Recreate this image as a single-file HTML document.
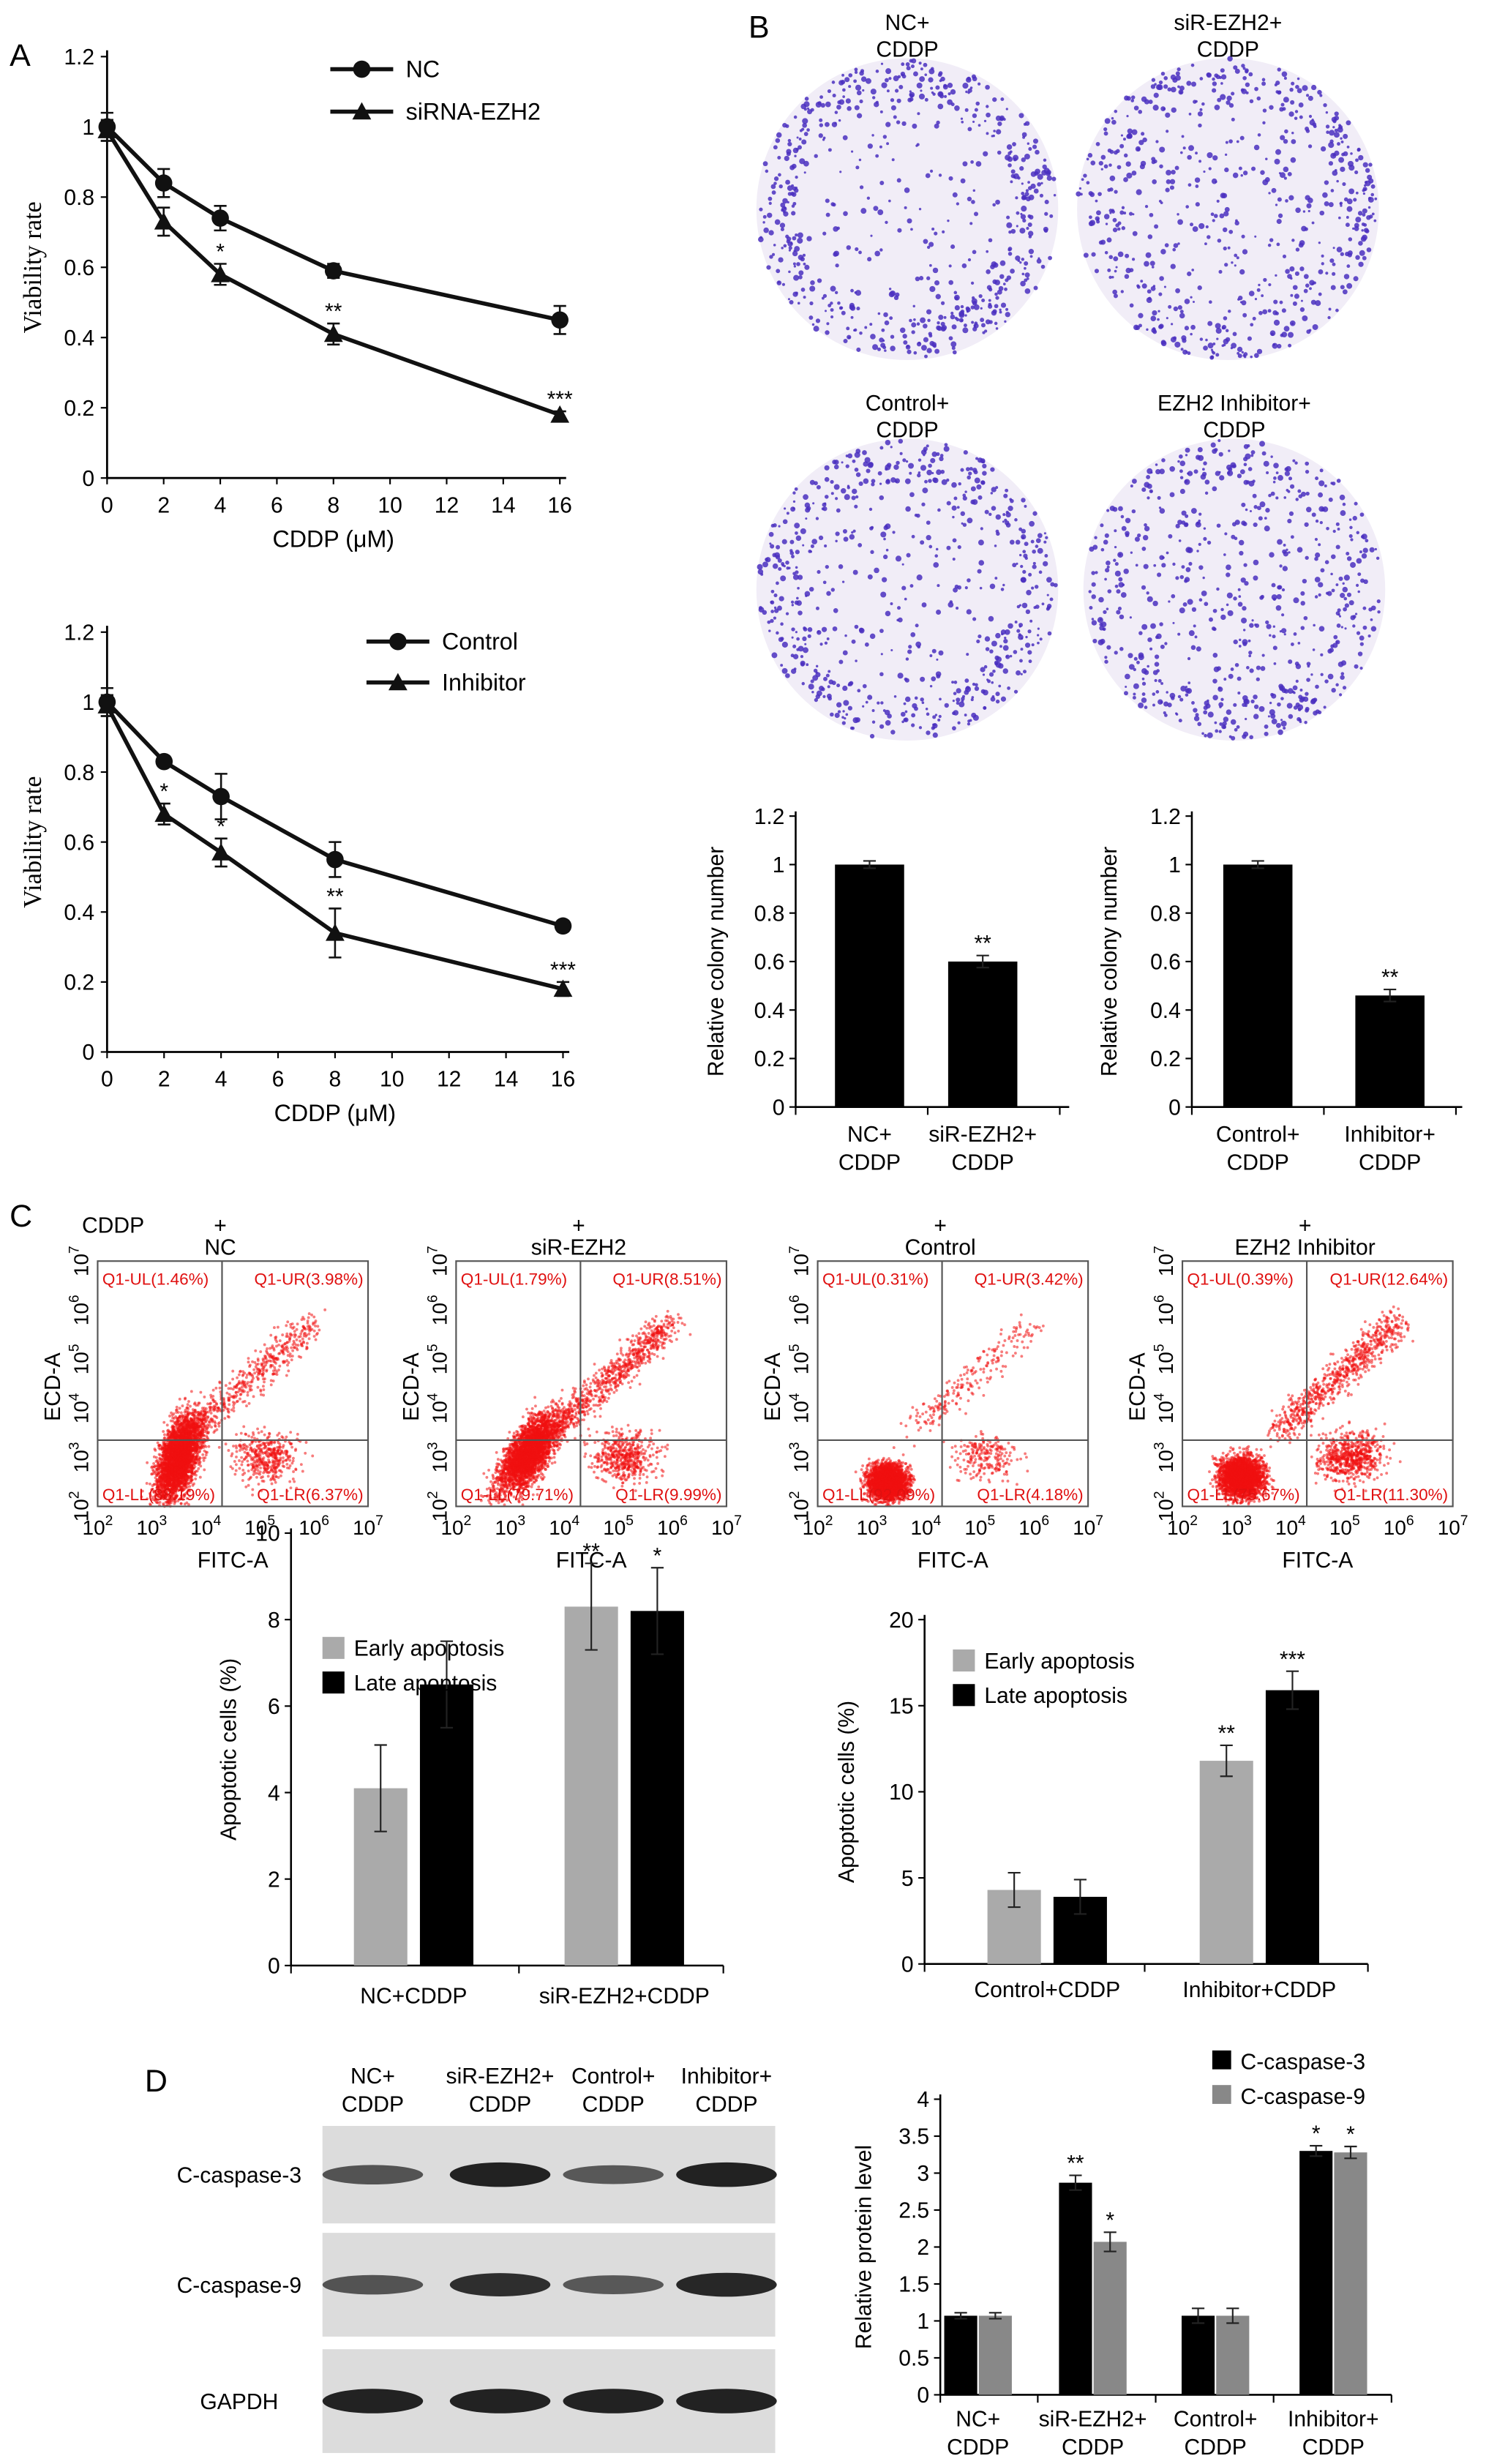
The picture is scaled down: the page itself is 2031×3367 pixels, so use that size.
<!DOCTYPE html>
<html><head><meta charset="utf-8"><style>
html,body{margin:0;padding:0;background:#fff}
svg{display:block;font-family:"Liberation Sans",Arial,sans-serif}
</style></head><body>
<svg id="fig" width="2031" height="3367" viewBox="0 0 945 1567" xmlns="http://www.w3.org/2000/svg">
<rect width="945" height="1567" fill="#fff"/>
<text x="6" y="42" font-size="20">A</text>
<text x="476" y="24" font-size="20">B</text>
<text x="6" y="780" font-size="20">C</text>
<text x="92" y="1330" font-size="20">D</text>
<g id="root"></g>
</svg>
<script>
// ---- Panel A data ----
const doses = [0, 2, 4, 8, 16];
const ncVals = [1.0, 0.84, 0.74, 0.59, 0.45];
const ncErr = [0.04, 0.04, 0.035, 0.02, 0.04];
const sirVals = [0.99, 0.73, 0.58, 0.41, 0.18];
const sirErr = [0.03, 0.04, 0.03, 0.03, 0.01];
const sirStars = ["", "", "*", "**", "***"];
const ctrlVals = [1.0, 0.83, 0.73, 0.55, 0.36];
const ctrlErr = [0.04, 0.015, 0.065, 0.05, 0.015];
const inhVals = [0.99, 0.68, 0.57, 0.34, 0.18];
const inhErr = [0.03, 0.03, 0.04, 0.07, 0.02];
const inhStars = ["", "*", "*", "**", "***"];
const xTicksA = [0, 2, 4, 6, 8, 10, 12, 14, 16];
const yTicksA = [0, 0.2, 0.4, 0.6, 0.8, 1, 1.2];
// ---- Panel B data ----
const colonyCats1 = ["NC+|CDDP", "siR-EZH2+|CDDP"];
const colonyVals1 = [1.0, 0.6];
const colonyErr1 = [0.015, 0.025];
const colonyStars1 = ["", "**"];
const colonyCats2 = ["Control+|CDDP", "Inhibitor+|CDDP"];
const colonyVals2 = [1.0, 0.46];
const colonyErr2 = [0.015, 0.025];
const colonyStars2 = ["", "**"];
const yTicksB = [0, 0.2, 0.4, 0.6, 0.8, 1, 1.2];
// ---- Panel C data ----
const flowTitles = ["NC", "siR-EZH2", "Control", "EZH2 Inhibitor"];
const flowUL = ["Q1-UL(1.46%)", "Q1-UL(1.79%)", "Q1-UL(0.31%)", "Q1-UL(0.39%)"];
const flowUR = ["Q1-UR(3.98%)", "Q1-UR(8.51%)", "Q1-UR(3.42%)", "Q1-UR(12.64%)"];
const flowLL = ["Q1-LL(88.19%)", "Q1-LL(79.71%)", "Q1-LL(92.09%)", "Q1-LL(75.67%)"];
const flowLR = ["Q1-LR(6.37%)", "Q1-LR(9.99%)", "Q1-LR(4.18%)", "Q1-LR(11.30%)"];
const apoCats1 = ["NC+CDDP", "siR-EZH2+CDDP"];
const apoEarly1 = [4.1, 8.3];
const apoLate1 = [6.5, 8.2];
const apoEarlyErr1 = [1.0, 1.0];
const apoLateErr1 = [1.0, 1.0];
const apoEarlyStars1 = ["", "**"];
const apoLateStars1 = ["", "*"];
const yTicksC1 = [0, 2, 4, 6, 8, 10];
const apoCats2 = ["Control+CDDP", "Inhibitor+CDDP"];
const apoEarly2 = [4.3, 11.8];
const apoLate2 = [3.9, 15.9];
const apoEarlyErr2 = [1.0, 0.9];
const apoLateErr2 = [1.0, 1.1];
const apoEarlyStars2 = ["", "**"];
const apoLateStars2 = ["", "***"];
const yTicksC2 = [0, 5, 10, 15, 20];
// ---- Panel D data ----
const protCats = ["NC+|CDDP", "siR-EZH2+|CDDP", "Control+|CDDP", "Inhibitor+|CDDP"];
const casp3 = [1.07, 2.87, 1.07, 3.3];
const casp3Err = [0.04, 0.1, 0.1, 0.07];
const casp9 = [1.07, 2.07, 1.07, 3.28];
const casp9Err = [0.04, 0.13, 0.1, 0.08];
const casp3Stars = ["", "**", "", "*"];
const casp9Stars = ["", "*", "", "*"];
const yTicksD = [0, 0.5, 1, 1.5, 2, 2.5, 3, 3.5, 4];

const NS = "http://www.w3.org/2000/svg";
const root = document.getElementById("root");
function el(tag, attrs, parent, txt) {
  const e = document.createElementNS(NS, tag);
  for (const k in attrs) e.setAttribute(k, attrs[k]);
  if (txt !== undefined) e.textContent = txt;
  (parent || root).appendChild(e);
  return e;
}
function lin(d0, d1, r0, r1) { return v => r0 + (v - d0) / (d1 - d0) * (r1 - r0); }
function rng(seed) { let s = seed; return () => { s = (s * 16807) % 2147483647; return (s - 1) / 2147483646; }; }
function gauss(r) { return (r() + r() + r() + r() - 2) / 1.15; }

// ---------- Line charts (Panel A) ----------
function lineChart(cfg) {
  const g = el("g", {});
  
  
  const x = lin(0, 16, cfg.x0, cfg.x1), y = lin(0, 1.2, cfg.yb, cfg.yt);
  el("line", {x1: cfg.x0, y1: cfg.yt - 4, x2: cfg.x0, y2: cfg.yb, stroke: "#000", "stroke-width": 1.3}, g);
  el("line", {x1: cfg.x0, y1: cfg.yb, x2: cfg.x1 + 4, y2: cfg.yb, stroke: "#000", "stroke-width": 1.3}, g);
  yTicksA.forEach(t => {
    el("line", {x1: cfg.x0 - 4, y1: y(t), x2: cfg.x0, y2: y(t), stroke: "#000"}, g);
    const tl = el("text", {x: cfg.x0 - 8, y: y(t) + 5, "font-size": 14, "text-anchor": "end"}, g, String(t));
    
    
  });
  xTicksA.forEach(t => {
    el("line", {x1: x(t), y1: cfg.yb, x2: x(t), y2: cfg.yb + 4, stroke: "#000"}, g);
    const tl = el("text", {x: x(t), y: cfg.yb + 22, "font-size": 14, "text-anchor": "middle"}, g, String(t));
    
    
  });
  const xt = el("text", {x: (cfg.x0 + cfg.x1) / 2, y: cfg.yb + 44, "font-size": 15, "text-anchor": "middle"}, g, "CDDP (μM)");
  
  
  const yt = el("text", {x: 0, y: 0, "font-size": 16, "text-anchor": "middle", transform: `translate(${cfg.x0 - 42},${(cfg.yt + cfg.yb) / 2}) rotate(-90)`, "font-family": "Liberation Serif, serif"}, g, "Viability rate");
  
  
  cfg.series.forEach((s, si) => {
    const pts = doses.map((d, i) => x(d) + "," + y(s.vals[i])).join(" ");
    const pl = el("polyline", {points: pts, fill: "none", stroke: "#111", "stroke-width": 2.6}, g);
    
    
    doses.forEach((d, i) => {
      const cx = x(d), cy = y(s.vals[i]), e = s.err[i];
      el("line", {x1: cx, y1: y(s.vals[i] + e), x2: cx, y2: y(s.vals[i] - e), stroke: "#111", "stroke-width": 1.2}, g);
      el("line", {x1: cx - 4, y1: y(s.vals[i] + e), x2: cx + 4, y2: y(s.vals[i] + e), stroke: "#111", "stroke-width": 1.2}, g);
      el("line", {x1: cx - 4, y1: y(s.vals[i] - e), x2: cx + 4, y2: y(s.vals[i] - e), stroke: "#111", "stroke-width": 1.2}, g);
      let m;
      if (s.marker === "circle") m = el("circle", {cx: cx, cy: cy, r: 5.5, fill: "#111"}, g);
      else m = el("polygon", {points: `${cx},${cy - 6} ${cx - 6},${cy + 5} ${cx + 6},${cy + 5}`, fill: "#111"}, g);
      
      
      if (s.stars && s.stars[i]) {
        const st = el("text", {x: cx, y: y(s.vals[i] + e) - 3, "font-size": 14, "text-anchor": "middle"}, g, s.stars[i]);
        
        
      }
    });
    const ly = cfg.legY[si];
    el("line", {x1: cfg.legX, y1: ly, x2: cfg.legX + 40, y2: ly, stroke: "#111", "stroke-width": 2.6}, g);
    const lx = cfg.legX + 20;
    if (s.marker === "circle") el("circle", {cx: lx, cy: ly, r: 5.5, fill: "#111"}, g);
    else el("polygon", {points: `${lx},${ly - 6} ${lx - 6},${ly + 5} ${lx + 6},${ly + 5}`, fill: "#111"}, g);
    const lt = el("text", {x: cfg.legX + 48, y: ly + 5, "font-size": 15}, g, s.label);
    
    
  });
}
lineChart({name: "viability-chart-sirna", x0: 68, x1: 356, yt: 36, yb: 304, legX: 210, legY: [44, 71],
  series: [{key: "nc", label: "NC", vals: ncVals, err: ncErr, marker: "circle"},
           {key: "sirna", label: "siRNA-EZH2", vals: sirVals, err: sirErr, marker: "tri", stars: sirStars}]});
lineChart({name: "viability-chart-inhibitor", x0: 68, x1: 358, yt: 402, yb: 669, legX: 233, legY: [408, 434],
  series: [{key: "control", label: "Control", vals: ctrlVals, err: ctrlErr, marker: "circle"},
           {key: "inhibitor", label: "Inhibitor", vals: inhVals, err: inhErr, marker: "tri", stars: inhStars}]});

// ---------- Colony plates (Panel B) ----------
const plates = [[577, 133, "NC+", "CDDP", 0.55, 11], [781, 133, "siR-EZH2+", "CDDP", 0.4, 23], [577, 375, "Control+", "CDDP", 0.5, 37], [785, 375, "EZH2 Inhibitor+", "CDDP", 0.35, 53]];
plates.forEach((p, pi) => {
  const g = el("g", {});
  
  
  el("circle", {cx: p[0], cy: p[1], r: 96, fill: "#f1edf7"}, g);
  const r = rng(p[5] * 1000 + 7);
  for (let i = 0; i < 650; i++) {
    const a = r() * 6.283; let rad = 96 * Math.sqrt(r());
    if (r() < p[4]) rad = 96 * (0.72 + 0.27 * r());
    el("circle", {cx: p[0] + rad * Math.cos(a), cy: p[1] + rad * Math.sin(a), r: 0.7 + r() * 1.2, fill: "#4a2fc0", opacity: 0.85}, g);
  }
  const t1 = el("text", {x: p[0], y: p[1] - 114, "font-size": 14, "text-anchor": "middle"}, g, p[2]);
  
  
  el("text", {x: p[0], y: p[1] - 97, "font-size": 14, "text-anchor": "middle"}, g, p[3]);
});

// ---------- Bar chart helper ----------
function barChart(cfg) {
  const g = el("g", {});
  
  
  const y = lin(0, cfg.ymax, cfg.yb, cfg.yt);
  el("line", {x1: cfg.x0, y1: cfg.yt - 3, x2: cfg.x0, y2: cfg.yb, stroke: "#000", "stroke-width": 1.2}, g);
  el("line", {x1: cfg.x0, y1: cfg.yb, x2: cfg.x1, y2: cfg.yb, stroke: "#000", "stroke-width": 1.2}, g);
  cfg.ticks.forEach(t => {
    el("line", {x1: cfg.x0 - 4, y1: y(t), x2: cfg.x0, y2: y(t), stroke: "#000"}, g);
    const tl = el("text", {x: cfg.x0 - 7, y: y(t) + 5, "font-size": 14, "text-anchor": "end"}, g, String(t));
    
    
  });
  if (cfg.sepTicks) cfg.sepTicks.forEach(sx => el("line", {x1: sx, y1: cfg.yb, x2: sx, y2: cfg.yb + 5, stroke: "#000"}, g));
  const yt = el("text", {x: 0, y: 0, "font-size": 14, "text-anchor": "middle", transform: `translate(${cfg.ylx},${(cfg.yt + cfg.yb) / 2}) rotate(-90)`}, g, cfg.ylabel);
  
  
  cfg.cats.forEach((c, i) => {
    const cx = cfg.centers[i];
    cfg.series.forEach((s, si) => {
      const bx = cx + s.off - cfg.bw / 2, v = s.vals[i], e = s.err[i];
      const b = el("rect", {x: bx, y: y(v), width: cfg.bw, height: cfg.yb - y(v), fill: s.color}, g);
      
      
      const mx = bx + cfg.bw / 2;
      el("line", {x1: mx, y1: y(v + e), x2: mx, y2: y(v - e), stroke: "#222"}, g);
      el("line", {x1: mx - 4, y1: y(v + e), x2: mx + 4, y2: y(v + e), stroke: "#222"}, g);
      el("line", {x1: mx - 4, y1: y(v - e), x2: mx + 4, y2: y(v - e), stroke: "#222"}, g);
      if (s.stars && s.stars[i]) {
        const st = el("text", {x: mx, y: y(v + e) - 3, "font-size": 14, "text-anchor": "middle"}, g, s.stars[i]);
        
        
      }
    });
    c.split("|").forEach((ln, li) => {
      const tl = el("text", {x: cx + (cfg.labOff || 0), y: cfg.yb + cfg.labDy + li * 18, "font-size": 14, "text-anchor": "middle"}, g, ln);
      
      
    });
  });
  if (cfg.legend) cfg.legend.forEach((l, li) => {
    el("rect", {x: l.x, y: l.y - 7, width: l.w || 14, height: l.h || 14, fill: l.color}, g);
    const lt = el("text", {x: l.x + (l.w || 14) + 6, y: l.y + 5, "font-size": 14}, g, l.text);
    
    
  });
}
barChart({name: "colony-chart-sirna", x0: 506, x1: 680, yt: 519, yb: 704, ymax: 1.2, ticks: yTicksB, ylx: 460, ylabel: "Relative colony number",
  cats: colonyCats1, centers: [553, 625], bw: 44, labDy: 22, sepTicks: [506, 590, 674],
  series: [{key: "colony", vals: colonyVals1, err: colonyErr1, color: "#000", off: 0, stars: colonyStars1}]});
barChart({name: "colony-chart-inhibitor", x0: 758, x1: 930, yt: 519, yb: 704, ymax: 1.2, ticks: yTicksB, ylx: 710, ylabel: "Relative colony number",
  cats: colonyCats2, centers: [800, 884], bw: 44, labDy: 22, sepTicks: [758, 842, 926],
  series: [{key: "colony", vals: colonyVals2, err: colonyErr2, color: "#000", off: 0, stars: colonyStars2}]});

// ---------- Flow cytometry (Panel C) ----------
const cddp = el("text", {x: 52, y: 784, "font-size": 14}, root, "CDDP");


const flowX = [62, 290, 520, 752];
const flowProfiles = [
  {llx: 0.3, lly: 0.2, llsx: 0.07, llsy: 0.17, ll: 3200, diag: 500, lr: 420, slope: 0.6},
  {llx: 0.27, lly: 0.22, llsx: 0.08, llsy: 0.15, ll: 3000, diag: 800, lr: 500, slope: 1.2},
  {llx: 0.26, lly: 0.1, llsx: 0.07, llsy: 0.07, ll: 2600, diag: 220, lr: 220, slope: 0},
  {llx: 0.22, lly: 0.12, llsx: 0.08, llsy: 0.08, ll: 2600, diag: 750, lr: 650, slope: 0}];
flowTitles.forEach((t, i) => {
  const g = el("g", {});
  
  
  const x0 = flowX[i], w = 172, yt = 802, h = 156, yb = yt + h;
  const fx = lin(2, 7, x0, x0 + w), fy = lin(2, 7, yb, yt);
  el("text", {x: x0 + w / 2 - 8, y: 784, "font-size": 14, "text-anchor": "middle"}, g, "+");
  const tt = el("text", {x: x0 + w / 2 - 8, y: 802 - 4, "font-size": 14, "text-anchor": "middle"}, g, t);
  
  
  const r = rng(i * 977 + 31), p = flowProfiles[i], pts = [];
  for (let k = 0; k < p.ll; k++) { const gy = gauss(r) * p.llsy; pts.push([p.llx + gauss(r) * p.llsx + gy * p.slope * 0.4, p.lly + gy]); }
  for (let k = 0; k < p.diag; k++) { const s = r(); pts.push([0.35 + s * 0.45 + gauss(r) * 0.06, 0.3 + s * 0.45 + gauss(r) * 0.06]); }
  for (let k = 0; k < p.lr; k++) pts.push([0.62 + gauss(r) * 0.12, 0.2 + gauss(r) * 0.1]);
  pts.forEach(q => {
    if (q[0] < 0 || q[0] > 1 || q[1] < 0 || q[1] > 1) return;
    el("circle", {cx: x0 + q[0] * w, cy: yb - q[1] * h, r: 0.9, fill: "#f01010", opacity: 0.55}, g);
  });
  el("rect", {x: x0, y: yt, width: w, height: h, fill: "none", stroke: "#555", "stroke-width": 1}, g);
  el("line", {x1: x0, y1: yb - 0.27 * h, x2: x0 + w, y2: yb - 0.27 * h, stroke: "#555"}, g);
  el("line", {x1: x0 + 0.46 * w, y1: yt, x2: x0 + 0.46 * w, y2: yb, stroke: "#555"}, g);
  [2, 3, 4, 5, 6, 7].forEach(d => {
    const xl = el("text", {x: fx(d), y: yb + 18, "font-size": 13, "text-anchor": "middle"}, g);
    el("tspan", {}, xl, "10");
    el("tspan", {dy: -6, "font-size": 9}, xl, String(d));
    const yl = el("text", {x: 0, y: 0, "font-size": 13, "text-anchor": "middle", transform: `translate(${x0 - 6},${fy(d)}) rotate(-90)`}, g);
    el("tspan", {}, yl, "10");
    el("tspan", {dy: -6, "font-size": 9}, yl, String(d));
  });
  const xa = el("text", {x: x0 + w / 2, y: yb + 39, "font-size": 14, "text-anchor": "middle"}, g, "FITC-A");
  
  
  const ya = el("text", {x: 0, y: 0, "font-size": 14, "text-anchor": "middle", transform: `translate(${x0 - 24},${yt + 80}) rotate(-90)`}, g, "ECD-A");
  
  
  const lab = [[flowUL[i], x0 + 3, yt + 15, "start"], [flowUR[i], x0 + w - 3, yt + 15, "end"], [flowLL[i], x0 + 3, yb - 4, "start"], [flowLR[i], x0 + w - 3, yb - 4, "end"]];
  lab.forEach(l => {
    const q = el("text", {x: l[1], y: l[2], "font-size": 10.5, fill: "#e01010", "text-anchor": l[3]}, g, l[0]);
    
    
  });
});
barChart({name: "apoptosis-chart-sirna", x0: 185, x1: 460, yt: 975, yb: 1250, ymax: 10, ticks: yTicksC1, ylx: 150, ylabel: "Apoptotic cells (%)",
  cats: apoCats1, centers: [263, 397], bw: 34, labDy: 24, sepTicks: [185, 330, 460],
  legend: [{x: 205, y: 1048, color: "#aaa", text: "Early  apoptosis"}, {x: 205, y: 1070, color: "#000", text: "Late   apoptosis"}],
  series: [{key: "early", vals: apoEarly1, err: apoEarlyErr1, color: "#aaa", off: -21, stars: apoEarlyStars1},
           {key: "late", vals: apoLate1, err: apoLateErr1, color: "#000", off: 21, stars: apoLateStars1}]});
barChart({name: "apoptosis-chart-inhibitor", x0: 588, x1: 870, yt: 1030, yb: 1249, ymax: 20, ticks: yTicksC2, ylx: 543, ylabel: "Apoptotic cells (%)",
  cats: apoCats2, centers: [666, 801], bw: 34, labDy: 21, sepTicks: [588, 728, 870],
  legend: [{x: 606, y: 1056, color: "#aaa", text: "Early  apoptosis"}, {x: 606, y: 1078, color: "#000", text: "Late   apoptosis"}],
  series: [{key: "early", vals: apoEarly2, err: apoEarlyErr2, color: "#aaa", off: -21, stars: apoEarlyStars2},
           {key: "late", vals: apoLate2, err: apoLateErr2, color: "#000", off: 21, stars: apoLateStars2}]});

// ---------- Western blot (Panel D) ----------
const blotCenters = [237, 318, 390, 462];
protCats.forEach((c, i) => c.split("|").forEach((ln, li) => {
  const t = el("text", {x: blotCenters[i], y: 1325 + li * 18, "font-size": 14, "text-anchor": "middle"}, root, ln);
  
  
}));
const blotRows = [["C-caspase-3", 1352, 62, [0.55, 0.95, 0.5, 0.95]], ["C-caspase-9", 1420, 66, [0.55, 0.85, 0.5, 0.9]], ["GAPDH", 1494, 66, [0.95, 0.95, 0.95, 0.95]]];
blotRows.forEach(b => {
  const g = el("g", {});
  
  
  el("rect", {x: 205, y: b[1], width: 288, height: b[2], fill: "#dcdcdc"}, g);
  b[3].forEach((s, i) => el("ellipse", {cx: blotCenters[i], cy: b[1] + b[2] / 2, rx: 32, ry: 4 + 4 * s, fill: "#111", opacity: 0.35 + 0.6 * s}, g));
  const t = el("text", {x: 152, y: b[1] + b[2] / 2 + 5, "font-size": 14, "text-anchor": "middle"}, g, b[0]);
  
  
});
barChart({name: "protein-level-chart", x0: 598, x1: 885, yt: 1335, yb: 1523, ymax: 4, ticks: yTicksD, ylx: 554, ylabel: "Relative protein level",
  cats: protCats, centers: [622, 695, 773, 848], bw: 21, labDy: 20, sepTicks: [598, 660, 735, 810, 885],
  legend: [{x: 771, y: 1311, color: "#000", text: "C-caspase-3", w: 12, h: 12}, {x: 771, y: 1333, color: "#888", text: "C-caspase-9", w: 12, h: 12}],
  series: [{key: "caspase3", vals: casp3, err: casp3Err, color: "#000", off: -11, stars: casp3Stars},
           {key: "caspase9", vals: casp9, err: casp9Err, color: "#888", off: 11, stars: casp9Stars}]});
</script>
</body></html>
